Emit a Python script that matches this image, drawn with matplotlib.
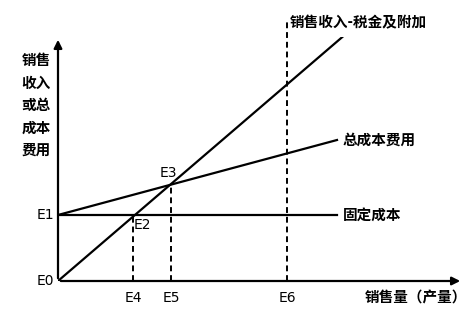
import matplotlib
matplotlib.use('Agg')
import matplotlib.pyplot as plt

plt.rcParams['font.family'] = ['Noto Sans CJK SC', 'DejaVu Sans']

# values (arbitrary units, origin = E0)
fixed_cost = 66
cost_x = [0, 279]
total_cost = [66, 141]
fixed_line = [66, 66]
rev_x = [0, 289]
revenue = [0, 248]
e4, e5, e6 = 75, 113, 229
e2_y, e3_y = 66, 97
e6_top = 261

fig = plt.figure(figsize=(4.74, 3.2), dpi=100)
ax = fig.add_axes([58 / 474, 39 / 320, 405 / 474, 244 / 320])
ax.set_xlim(0, 405)
ax.set_ylim(0, 244)
ax.axis('off')

ax.annotate('', xy=(405, 0), xytext=(0, 0),
            arrowprops=dict(arrowstyle='-|>', color='black', lw=1.6, mutation_scale=12))
ax.annotate('', xy=(0, 244), xytext=(0, 0),
            arrowprops=dict(arrowstyle='-|>', color='black', lw=1.6, mutation_scale=12))

ax.plot(cost_x, fixed_line, color='black', lw=1.6)
ax.plot(cost_x, total_cost, color='black', lw=1.6)
ax.plot(rev_x, revenue, color='black', lw=1.6)

ax.plot([e4, e4], [0, e2_y], color='black', lw=1.4, ls=(0, (3, 2)))
ax.plot([e5, e5], [0, e3_y], color='black', lw=1.4, ls=(0, (3, 2)))
ax.plot([e6, e6], [0, e6_top], color='black', lw=1.4, ls=(0, (3, 2)), clip_on=False)

ef = dict(fontsize=10, family=['Liberation Sans Narrow', 'DejaVu Sans'])
ax.text(-4, 0, 'E0', ha='right', va='center', **ef)
ax.text(-4, fixed_cost, 'E1', ha='right', va='center', **ef)
ax.text(e4 + 1, e2_y - 3, 'E2', ha='left', va='top', **ef)
ax.text(e5 - 3, e3_y + 4, 'E3', ha='center', va='bottom', **ef)
ax.text(e4, -10, 'E4', ha='center', va='top', **ef)
ax.text(e5, -10, 'E5', ha='center', va='top', **ef)
ax.text(e6, -10, 'E6', ha='center', va='top', **ef)

cf = dict(fontsize=10.5, fontweight='bold')
ax.text(-22, 229, '销售\n收入\n或总\n成本\n费用', ha='center', va='top', linespacing=1.5, **cf)
ax.text(232, 259, '销售收入-税金及附加', ha='left', va='center', clip_on=False, **cf)
ax.text(285, 141, '总成本费用', ha='left', va='center', **cf)
ax.text(285, 66, '固定成本', ha='left', va='center', **cf)
ax.text(358, -17, '销售量（产量）', ha='center', va='center', **cf)

fig.savefig('out.png')
